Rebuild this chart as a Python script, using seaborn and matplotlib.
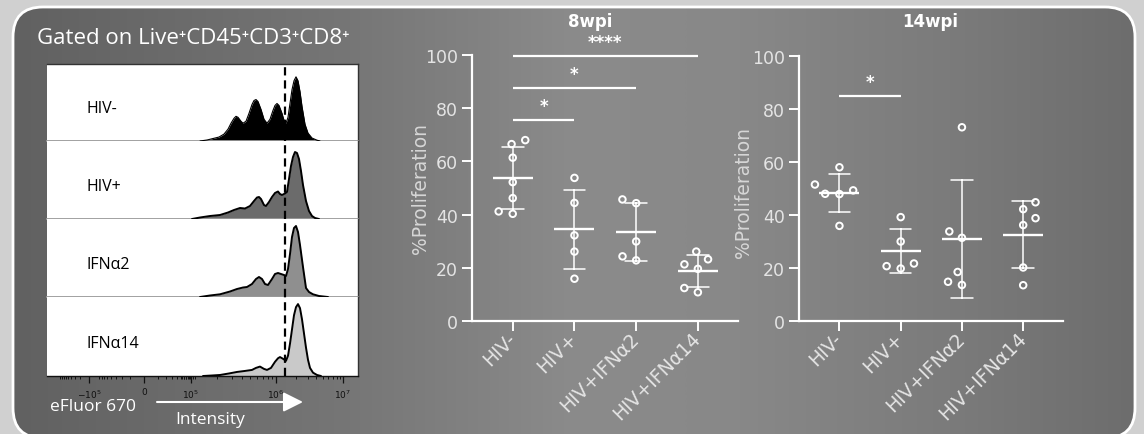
import numpy as np
import pandas as pd
import matplotlib
matplotlib.use("Agg")
import matplotlib.pyplot as plt
import seaborn as sns
from matplotlib.patches import FancyBboxPatch
from matplotlib.colors import LinearSegmentedColormap
from matplotlib.path import Path

# ------------------------------------------------------------------ data
groups = ["HIV-", "HIV+", "HIV+IFNα2", "HIV+IFNα14"]
yticks = [0, 20, 40, 60, 80, 100]

wpi8_hiv_neg = [68.0, 66.5, 61.4, 52.2, 46.2, 40.3, 41.2]
wpi8_hiv_pos = [53.8, 44.4, 32.2, 26.1, 15.9]
wpi8_ifna2 = [45.7, 44.3, 29.9, 22.8, 24.3]
wpi8_ifna14 = [26.1, 23.2, 21.3, 19.6, 12.4, 10.8]

wpi14_hiv_neg = [58.0, 51.5, 48.0, 47.9, 49.3, 35.9]
wpi14_hiv_pos = [39.2, 30.0, 19.8, 21.7, 20.7]
wpi14_ifna2 = [73.1, 33.8, 31.4, 18.5, 13.6, 14.8]
wpi14_ifna14 = [44.8, 42.2, 38.8, 36.2, 20.2, 13.5]

# significance brackets: (from group, to group, height, label)
sig8 = [(0, 1, 75.7, "*"), (0, 2, 87.6, "*"), (0, 3, 99.5, "****")]
sig14 = [(0, 1, 84.9, "*")]

# flow histograms (display channel position, height)
hist_labels = ["HIV-", "HIV+", "IFNα2", "IFNα14"]
hist_x_hivneg = [153, 160, 166, 172, 177, 181, 184, 187, 189, 191, 194, 196, 199, 202, 205, 207, 209, 211,
                 214, 217, 220, 223, 226, 228, 230, 232, 235, 237, 239, 241, 243, 245, 247, 249, 251, 253,
                 255, 258, 261, 265, 270, 273]
hist_h_hivneg = [0, 1, 2.5, 4, 7, 12, 18, 23, 25, 24, 20, 18, 20, 28, 37, 41, 42, 40,
                 32, 22, 18, 22, 31, 36, 38, 36, 28, 21, 18, 24, 38, 52, 61, 65, 61, 50,
                 35, 17, 8, 3, 0.8, 0]
hist_x_hivpos = [145, 153, 163, 173, 181, 187, 193, 198, 203, 207, 210, 212, 214, 217, 219, 222, 225, 228,
                 231, 233, 235, 238, 240, 242, 244, 246, 248, 250, 252, 254, 256, 259, 262, 265, 268, 272]
hist_h_hivpos = [0, 1.5, 3, 4, 6.5, 9, 11, 10.5, 13, 18, 21.5, 22, 20, 14, 13, 17, 22, 26,
                 27.5, 25, 24, 25.5, 27, 40, 53, 62, 67, 66, 60, 48, 34, 18, 8, 3, 1, 0]
hist_x_ifna2 = [153, 163, 173, 183, 190, 196, 200, 205, 209, 212, 215, 218, 221, 225, 228, 231, 234, 237,
                239, 241, 243, 245, 247, 249, 251, 253, 256, 259, 262, 266, 272, 281]
hist_h_ifna2 = [0, 1.5, 2.7, 5.5, 8, 9.5, 10, 13, 18, 20, 18, 13, 12, 18, 23, 24, 23, 22,
                21, 28, 43, 60, 69, 71, 65, 52, 30, 9, 5, 2.7, 1, 0]
hist_x_ifna14 = [156, 165, 173, 182, 190, 198, 205, 209, 213, 217, 220, 224, 228, 231, 233, 236, 239, 241,
                 243, 245, 247, 249, 251, 253, 255, 257, 259, 261, 263, 266, 270, 274]
hist_h_ifna14 = [0, 0.5, 1, 2.5, 4, 5, 6, 8, 9.3, 7, 6, 8, 14, 17.5, 18.7, 17, 15, 20,
                 32, 46, 60, 68, 71, 67, 56, 42, 28, 16, 8, 3.3, 1, 0]
gate_position = 238
hist_tick_pos = [42, 97, 144, 229, 296]
hist_tick_labels = [r"$-10^{5}$", "0", r"$10^{5}$", r"$10^{6}$", r"$10^{7}$"]

# ------------------------------------------------------------------ figure
W, H = 1144, 435
sns.set_style("ticks")
plt.rcParams["font.family"] = ["DejaVu Sans"]
SANS2 = ["Open Sans", "DejaVu Sans"]

fig = plt.figure(figsize=(W / 100, H / 100), dpi=100)
fig.patch.set_facecolor("#d0d0d0")

# background panel (pixel coordinates, y measured from the bottom)
bg = fig.add_axes([0, 0, 1, 1])
bg.set_xlim(0, W)
bg.set_ylim(0, H)
bg.axis("off")
stops = [0, 0.3, 0.5, 0.65, 0.85, 1.0]
cols = ["#616161", "#767676", "#8b8b8b", "#888888", "#7a7a7a", "#6d6d6d"]
cmap = LinearSegmentedColormap.from_list("panel", list(zip(stops, cols)))
grad = np.linspace(0, 1, 512)[None, :]
panel = FancyBboxPatch((13, -4), 1122, H - 8 + 4, boxstyle="round,pad=0,rounding_size=30",
                       fc="none", ec="white", lw=2, zorder=2)
bg.add_patch(panel)
im = bg.imshow(grad, cmap=cmap, extent=[13, 1135, -4, H - 8], aspect="auto",
               zorder=0, interpolation="bilinear")
im.set_clip_path(panel)
bg.set_xlim(0, W)
bg.set_ylim(0, H)


def py(y):
    return H - y


bg.text(37, py(39), "Gated on Live⁺CD45⁺CD3⁺CD8⁺", color="white", fontsize=16,
        family=SANS2, ha="left", va="center")
bg.text(50, py(407), "eFluor 670", color="white", fontsize=12.5, family=SANS2,
        ha="left", va="center")
bg.text(210, py(420), "Intensity", color="white", fontsize=12.5, family=SANS2,
        ha="center", va="center")
bg.annotate("", xy=(303, py(403)), xytext=(157, py(403)),
            arrowprops=dict(arrowstyle="-|>,head_length=1.0,head_width=0.5",
                            color="white", lw=1.5, mutation_scale=12, shrinkA=0, shrinkB=0))
bg.text(590, py(22), "8wpi", color="white", fontsize=12, fontweight="bold", ha="center", va="center")
bg.text(930, py(22), "14wpi", color="white", fontsize=12, fontweight="bold", ha="center", va="center")

# ------------------------------------------------------------------ histograms
hist_xs = [hist_x_hivneg, hist_x_hivpos, hist_x_ifna2, hist_x_ifna14]
hist_hs = [hist_h_hivneg, hist_h_hivpos, hist_h_ifna2, hist_h_ifna14]
fills = ["#000000", "#6b6b6b", "#8f8f8f", "#c9c9c9"]
row_edges = [65, 142, 220, 298, 377]
box_left, box_w = 47, 311
for i in range(4):
    top, bot = row_edges[i], row_edges[i + 1]
    ax = fig.add_axes([box_left / W, 1 - bot / H, box_w / W, (bot - top) / H])
    ax.set_facecolor("white")
    ax.fill_between(hist_xs[i], hist_hs[i], 0, color=fills[i], lw=0, zorder=2)
    sns.lineplot(x=hist_xs[i], y=hist_hs[i], ax=ax, color="black",
                 lw=1.4 if i > 0 else 0.8, sort=False, zorder=3)
    ax.axvline(gate_position, color="black", lw=1.6, ls=(0, (3.7, 2.2)), zorder=4)
    ax.set_xlim(0, box_w)
    ax.set_ylim(0, 78)
    ax.set_yticks([])
    ax.set_ylabel("")
    ax.text(39, 33, hist_labels[i], fontsize=11.5, family=SANS2, color="black",
            ha="left", va="center")
    ax.spines["left"].set_visible(False)
    ax.spines["right"].set_color("#333333")
    ax.spines["right"].set_linewidth(1)
    ax.spines["top"].set_visible(i == 0)
    ax.spines["top"].set_color("#333333")
    ax.spines["top"].set_linewidth(1)
    if i < 3:
        ax.spines["bottom"].set_color("#9a9a9a")
        ax.spines["bottom"].set_linewidth(1.3)
        ax.set_xticks([])
    else:
        ax.spines["bottom"].set_color("#111111")
        ax.spines["bottom"].set_linewidth(1)
        ax.set_xticks(hist_tick_pos)
        ax.set_xticklabels(hist_tick_labels)
        minor = []
        for k in range(2, 10):
            lk = np.log10(k)
            minor += [144 + 85 * lk, 229 + 67 * lk, 97 + 47 * lk, 97 - 47 * lk, 42 - 30 * lk]
        minor += [135, 137, 139, 141, 143, 146, 148]
        ax.set_xticks([m for m in minor if 0 < m < box_w], minor=True)
        ax.tick_params(axis="x", which="major", length=5, width=0.9, color="#111111",
                       labelsize=6.5, labelcolor="#111111", pad=3)
        ax.tick_params(axis="x", which="minor", length=2.5, width=0.7, color="#111111")

# hollow circle marker drawn smaller than its footprint, so the swarm spreads
# points apart the way the original dot plot does
_circ = Path.unit_circle()
ring_marker = Path.make_compound_path(
    Path(_circ.vertices * 0.56, _circ.codes),
    Path([[1, 0], [-1, 0], [0, 1], [0, -1]], [Path.MOVETO] * 4),
)

# ------------------------------------------------------------------ dot plots
def dot_panel(rect, values, sig, label_x, label_y):
    ax = fig.add_axes(rect)
    df = pd.DataFrame({
        "group": np.repeat(groups, [len(v) for v in values]),
        "val": np.concatenate(values),
    })
    sns.swarmplot(data=df, x="group", y="val", order=groups, ax=ax, size=8.4,
                  marker=ring_marker, color="white", edgecolor="white",
                  linewidth=1.4, zorder=3)
    for c in ax.collections:
        c.set_facecolor("none")
        c.set_edgecolor("white")
    sns.pointplot(data=df, x="group", y="val", order=groups, ax=ax, errorbar="sd",
                  capsize=0.35, color="white", marker="_", markersize=29,
                  markeredgewidth=1.7, linestyle="none", err_kws={"linewidth": 1.1})
    for a, b, yv, lab in sig:
        ax.plot([a, b], [yv, yv], color="white", lw=1.6, clip_on=False,
                solid_capstyle="butt")
        ax.text((a + b) / 2, yv + 5.3, lab, color="white", fontsize=12,
                fontweight="bold", ha="center", va="center", clip_on=False)
    ax.set_xlim(-0.66, 3.65)
    ax.set_ylim(0, 100)
    ax.set_yticks(yticks)
    ax.set_facecolor("none")
    for s in ["top", "right"]:
        ax.spines[s].set_visible(False)
    for s in ["left", "bottom"]:
        ax.spines[s].set_color("white")
        ax.spines[s].set_linewidth(1.6)
    ax.tick_params(axis="both", colors="white", width=1.4, length=7,
                   labelcolor="#e4e4e4", labelsize=12.5, pad=3)
    ax.set_xticks(range(len(groups)))
    ax.set_xticklabels(groups, rotation=45, ha="right", va="center",
                       rotation_mode="anchor", fontsize=13.5)
    ax.set_xlabel("")
    ax.set_ylabel("%Proliferation", color="#d6d6d6", fontsize=13.5)
    ax.yaxis.set_label_coords(label_x, label_y)
    return ax

dot_panel([472 / W, 1 - 322 / H, 266 / W, 266 / H],
          [wpi8_hiv_neg, wpi8_hiv_pos, wpi8_ifna2, wpi8_ifna14], sig8, -0.158, 0.5)
dot_panel([799 / W, 1 - 322 / H, 264 / W, 265 / H],
          [wpi14_hiv_neg, wpi14_hiv_pos, wpi14_ifna2, wpi14_ifna14], sig14, -0.174, 0.487)

fig.savefig("out.png", dpi=100, facecolor=fig.get_facecolor())
